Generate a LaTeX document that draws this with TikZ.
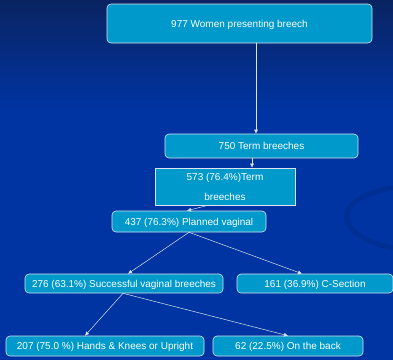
\documentclass[tikz,border=0pt]{standalone}
\usepackage{fontspec}
\setmainfont{Liberation Sans}
\usepackage{tikz}
\usetikzlibrary{shapes,positioning,calc}
\usetikzlibrary{arrows.meta}
\definecolor{sfondoalto}{HTML}{0A2462}
\definecolor{sfondo}{HTML}{0034A2}
\definecolor{arco}{HTML}{002F94}
\definecolor{riempi}{HTML}{0099CC}
\definecolor{bordo}{HTML}{D8E4F0}
\tikzstyle{gruppo} = [rectangle, rounded corners=4pt, draw=bordo, line width=0.6pt, fill=riempi,
text=white, font=\fontsize{10}{12}\selectfont, inner sep=0pt, text centered]
\tikzstyle{arrow} = [draw=bordo, line width=0.5pt, -{Latex[length=4pt,width=4pt]}]

\begin{document}
\begin{tikzpicture}[x=1pt,y=-1pt]
						\useasboundingbox (0,0) rectangle (393,360);
						\shade[top color=sfondoalto, bottom color=sfondo] (0,0) rectangle (393,110);
						\fill[sfondo] (0,110) rectangle (393,360);
						% arco sullo sfondo
						\begin{scope}
						\clip (0,0) rectangle (393,360);
						\draw[arco, line width=5pt] (400,187) .. controls (330,195) and (330,235) .. (393,248);
						\end{scope}
						\node (b1) at (239.5,23.5) [gruppo, text depth=0pt, minimum width=265pt, minimum height=39pt] {977 Women presenting breech};
						\node (b2) at (261.5,146) [gruppo, text depth=0pt, minimum width=193pt, minimum height=24pt] {750 Term breeches};
						\node (b3) at (225,186.5) [gruppo, rounded corners=0pt, minimum width=140pt, minimum height=37pt, align=center] {573 (76.4\%)Term\\[8pt]breeches};
						\node (b4) at (189,221.5) [gruppo, text depth=0pt, minimum width=154pt, minimum height=21pt] {437 (76.3\%) Planned vaginal};
						\node (b5) at (124,283.5) [gruppo, text depth=0pt, minimum width=198pt, minimum height=19pt] {276 (63.1\%) Successful vaginal breeches};
						\node (b6) at (315,283.5) [gruppo, text depth=0pt, minimum width=156pt, minimum height=19pt] {161 (36.9\%) C-Section};
						\node (b7) at (105,346) [gruppo, text depth=0pt, minimum width=198pt, minimum height=20pt] {207 (75.0 \%) Hands \& Knees or Upright};
						\node (b8) at (288,346) [gruppo, text depth=0pt, minimum width=150pt, minimum height=20pt] {62 (22.5\%) On the back};
						\draw[arrow] ([xshift=16.5pt]b1.south) -- ([xshift=-5.5pt]b2.north);
						\draw[arrow] ([xshift=-9.5pt]b2.south) -- ([xshift=27pt]b3.north);
						\draw[arrow] ([xshift=-17pt]b3.south) -- ([xshift=-2pt]b4.north);
						\draw[arrow] (b4.south) -- ([xshift=4pt]b5.north);
						\draw[arrow] (b4.south) -- ([xshift=-13pt]b6.north);
						\draw[arrow] ([xshift=-1pt]b5.south) -- ([xshift=-20pt]b7.north);
						\draw[arrow] ([xshift=-1pt]b5.south) -- (b8.north);
					\end{tikzpicture}
\end{document}
